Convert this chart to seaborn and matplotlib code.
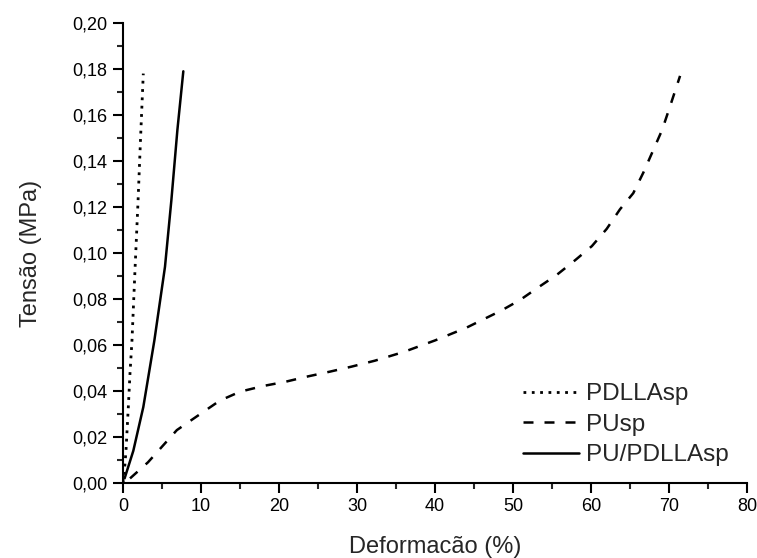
import matplotlib
matplotlib.use("Agg")
import matplotlib.pyplot as plt
import seaborn as sns
from matplotlib.ticker import MultipleLocator, FuncFormatter

# PDLLAsp (dotted)
pdlla_x = [0.0, 0.13, 0.38, 0.68, 0.9, 1.15, 1.54, 1.92, 2.25, 2.6]
pdlla_y = [0.0, 0.003, 0.014, 0.033, 0.048, 0.062, 0.093, 0.122, 0.150, 0.178]

# PUsp (dashed)
pu_x = [0.9, 3.2, 6.9, 9.9, 12.4, 15.0, 18.0, 20.8, 23.5, 26.5, 29.3, 32.3, 36.0, 40.0, 44.0, 48.5,
        50.9, 53.2, 55.6, 58.0, 60.1, 62.0, 63.7, 65.4, 66.7, 68.0, 69.1, 70.1, 71.4]
pu_y = [0.002, 0.009, 0.023, 0.030, 0.0358, 0.0397, 0.0422, 0.044, 0.0462, 0.0484, 0.0506, 0.0532,
        0.057, 0.062, 0.0675, 0.075, 0.0796, 0.085, 0.0905, 0.097, 0.103, 0.1105, 0.119, 0.126,
        0.135, 0.145, 0.1535, 0.1636, 0.177]

# PU/PDLLAsp (solid)
blend_x = [0.2, 1.32, 2.6, 4.02, 5.38, 6.2, 6.97, 7.73]
blend_y = [0.002, 0.014, 0.033, 0.062, 0.094, 0.123, 0.1535, 0.179]

sns.set_style("ticks")
plt.rcParams['font.family'] = ['Liberation Sans', 'DejaVu Sans']

fig = plt.figure(figsize=(7.57, 5.58), dpi=100)
ax = fig.add_axes([0.1625, 0.1344, 0.8245, 0.8244])

sns.lineplot(x=pdlla_x, y=pdlla_y, ax=ax, color='black', linestyle=(0, (1, 2)),
             linewidth=2, sort=False, label='PDLLAsp')
sns.lineplot(x=pu_x, y=pu_y, ax=ax, color='black', linestyle=(0, (4, 4.4)),
             linewidth=1.8, sort=False, label='PUsp')
sns.lineplot(x=blend_x, y=blend_y, ax=ax, color='black', linestyle='-',
             linewidth=1.8, sort=False, label='PU/PDLLAsp')

ax.set_xlim(0, 80)
ax.set_ylim(0, 0.20)
ax.xaxis.set_major_locator(MultipleLocator(10))
ax.xaxis.set_minor_locator(MultipleLocator(5))
ax.yaxis.set_major_locator(MultipleLocator(0.02))
ax.yaxis.set_minor_locator(MultipleLocator(0.01))
ax.yaxis.set_major_formatter(FuncFormatter(lambda v, p: f"{v:.2f}".replace('.', ',')))

sns.despine(ax=ax)
for sp in ax.spines.values():
    sp.set_linewidth(1.5)
    sp.set_color('black')
ax.tick_params(which='major', direction='out', length=7, width=1.5, labelsize=13,
               colors='black', pad=4)
ax.tick_params(which='minor', direction='out', length=4, width=1.5)

ax.set_xlabel('Deformacão (%)', fontsize=17, labelpad=15)
ax.set_ylabel('Tensão (MPa)', fontsize=17, labelpad=22)

leg = ax.legend(loc='upper left', bbox_to_anchor=(0.641, 0.217), frameon=False,
                fontsize=17.5, handlelength=2.3, handletextpad=0.3, labelspacing=0.35,
                borderpad=0, borderaxespad=0)

fig.savefig('out.png', dpi=100)
